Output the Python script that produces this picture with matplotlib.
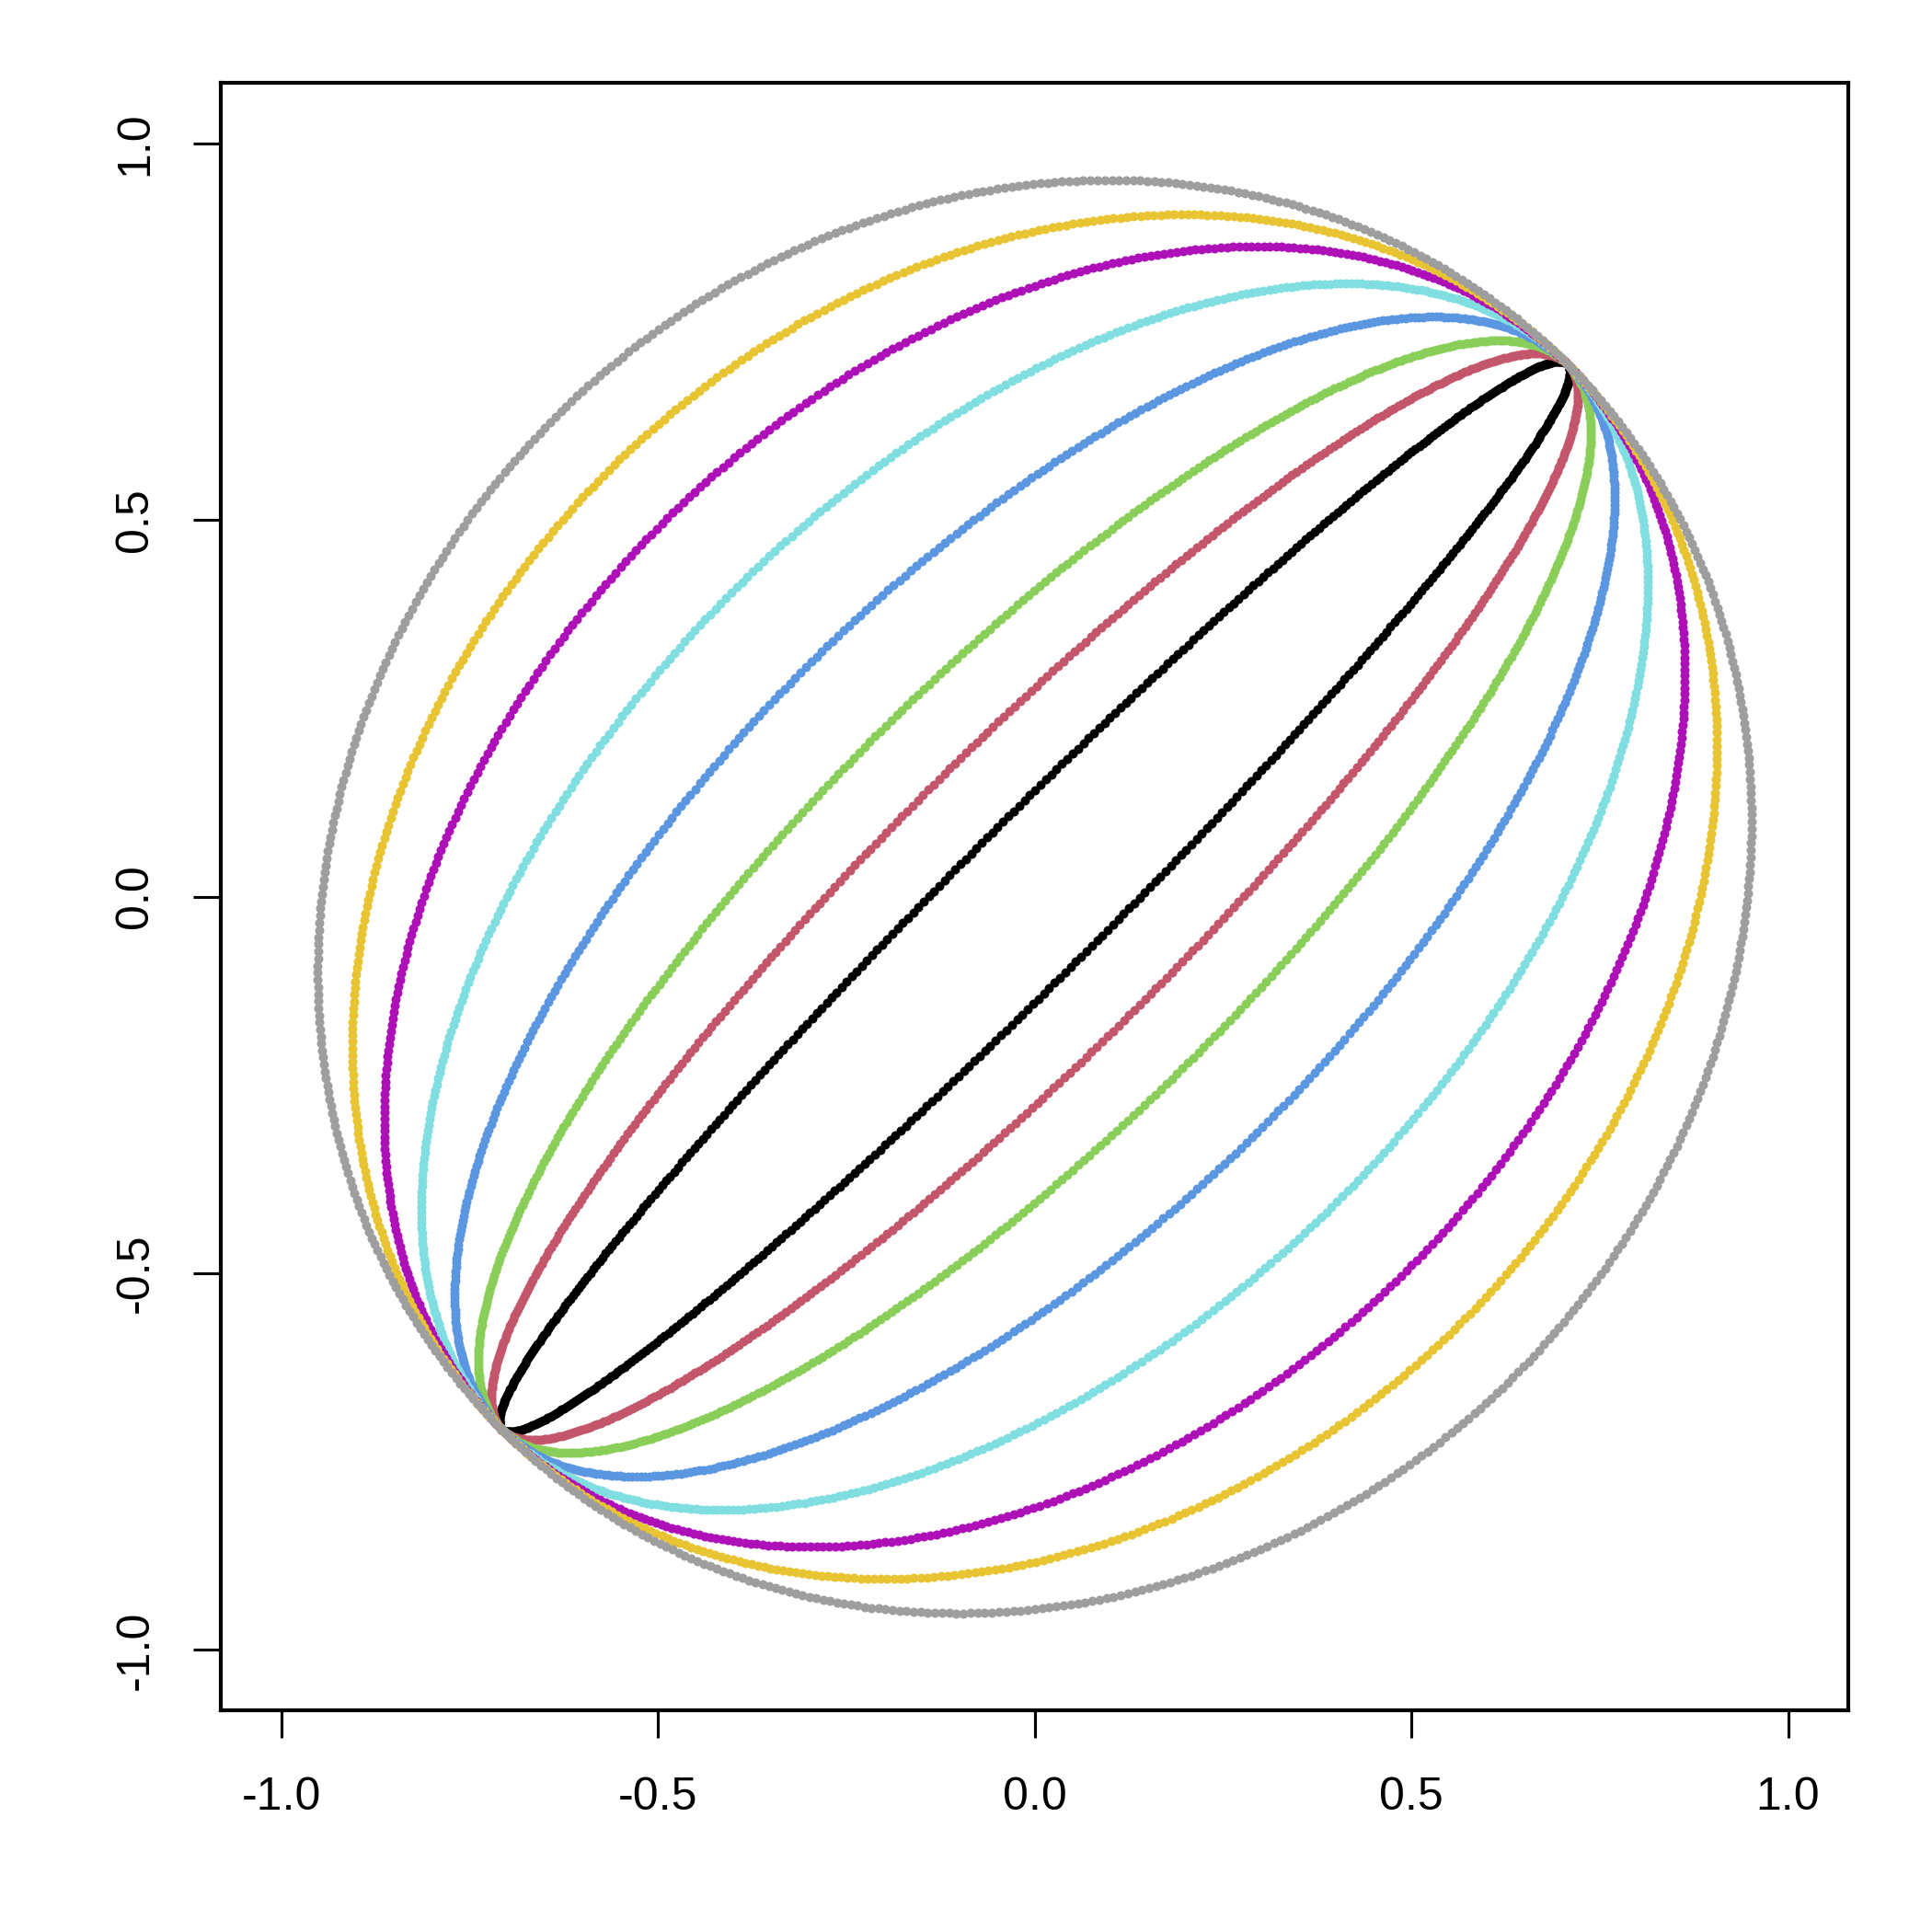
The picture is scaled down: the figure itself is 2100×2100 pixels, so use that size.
import numpy as np
import matplotlib
matplotlib.use('Agg')
import matplotlib.pyplot as plt

plt.rcParams['font.family'] = ['Liberation Sans', 'DejaVu Sans']

# minor semi-axes of the ellipses (major semi-axis 1, along y = x)
minor_axes = [0.1, 0.2, 0.3, 0.43, 0.57, 0.7, 0.8, 0.9]
colors = ['#000000', '#C4566B', '#8ACE5A', '#5B96E0', '#80DEE0', '#AE10B8', '#E8C332', '#9E9E9E']
ticks = [-1.0, -0.5, 0.0, 0.5, 1.0]
tick_labels = ['-1.0', '-0.5', '0.0', '0.5', '1.0']

t = np.arange(0, 2 * np.pi, 0.01)

fig = plt.figure(figsize=(7, 7), dpi=300)
ax = fig.add_axes([0.1143, 0.1148, 0.8424, 0.8422])

for b, color in zip(minor_axes, colors):
    u = np.cos(t)
    v = b * np.sin(t)
    x = (u - v) / np.sqrt(2)
    y = (u + v) / np.sqrt(2)
    ax.plot(x, y, linestyle='none', marker='o', markersize=2.4,
            markeredgewidth=0, color=color)

ax.set_xlim(-1.08, 1.08)
ax.set_ylim(-1.08, 1.08)
ax.set_xticks(ticks)
ax.set_xticklabels(tick_labels)
ax.set_yticks(ticks)
ax.set_yticklabels(tick_labels, rotation=90, va='center')
ax.tick_params(axis='both', length=7.2, width=0.75, labelsize=12)
ax.tick_params(axis='x', pad=10)
ax.tick_params(axis='y', pad=9.5)
for s in ax.spines.values():
    s.set_linewidth(1.0)

fig.savefig('out.png', dpi=300)
